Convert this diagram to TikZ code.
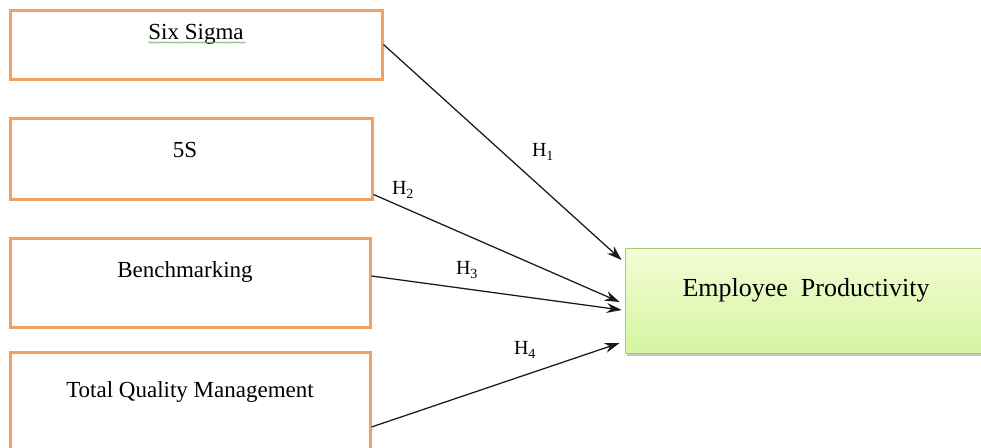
\documentclass[tikz,border=0pt]{standalone}
\usepackage{fontspec}
\setmainfont{Liberation Serif}
\usetikzlibrary{arrows.meta,calc,shadows,decorations.pathmorphing}
\definecolor{boxorange}{RGB}{240,162,102}
\definecolor{eptop}{RGB}{244,252,214}
\definecolor{epbot}{RGB}{212,245,160}
\definecolor{epborder}{RGB}{170,200,120}
\definecolor{spellgreen}{RGB}{120,180,120}
\begin{document}
\begin{tikzpicture}[x=1pt,y=-1pt,
  srcbox/.style={draw=boxorange, line width=3pt, fill=white, inner sep=0pt},
  boxtext/.style={font=\fontsize{23}{27}\selectfont, anchor=base, inner sep=0pt},
  hlabel/.style={font=\fontsize{20}{24}\selectfont, inner sep=0pt},
  link/.style={draw=black!90, line width=1.25pt, -{Stealth[length=15pt,width=10pt]}},
  epbox/.style={draw=epborder, line width=0.8pt, top color=eptop, bottom color=epbot,
    inner sep=0pt, drop shadow={shadow xshift=2pt, shadow yshift=-3pt, opacity=0.45}}
]
\useasboundingbox (0,0) rectangle (981,447);
\fill[white] (0,0) rectangle (981,447);

% source boxes
\node[srcbox, minimum width=372pt, minimum height=69pt] (ss) at (196,44.5) {};
\node[srcbox, minimum width=362pt, minimum height=81pt] (fs) at (191,158.5) {};
\node[srcbox, minimum width=360pt, minimum height=89pt] (bm) at (190,282.5) {};
\node[srcbox, minimum width=360pt, minimum height=110pt] (tq) at (190,407) {};

% texts
\node[boxtext] (sst) at (196,39) {Six Sigma};
\draw[spellgreen, line width=0.6pt, decorate, decoration={snake, amplitude=0.7pt, segment length=3pt}]
  (sst.base west) ++(0,3.5) -- ++(98,0);
\node[boxtext] (fst) at (185,157) {5S};
\node[boxtext] (bmt) at (185,277) {Benchmarking};
\node[boxtext] (tqt) at (190,397) {Total Quality Management};

% target
\node[epbox, minimum width=360pt, minimum height=105pt] (ep) at (805,300.5) {};
\node[font=\fontsize{26}{31}\selectfont, anchor=base, inner sep=0pt] (ept) at (806,296) {Employee\ \ Productivity};

% connectors
\draw[link] (ss.east) -- ([xshift=-3pt,yshift=40.5pt]ep.west);
\draw[link] ([yshift=6pt]fs.south east) -- ([xshift=-5pt,yshift=-1.5pt]ep.west);
\draw[link] ([yshift=6.5pt]bm.east) -- ([xshift=-3pt,yshift=-9.5pt]ep.west);
\draw[link] ([yshift=-20pt]tq.east) -- ([xshift=-5pt,yshift=-42.5pt]ep.west);

% labels
\node[hlabel] (h1) at (543,152) {H\textsubscript{1}};
\node[hlabel] (h2) at (403,190) {H\textsubscript{2}};
\node[hlabel] (h3) at (467,270) {H\textsubscript{3}};
\node[hlabel] (h4) at (525,350) {H\textsubscript{4}};
\end{tikzpicture}
\end{document}
